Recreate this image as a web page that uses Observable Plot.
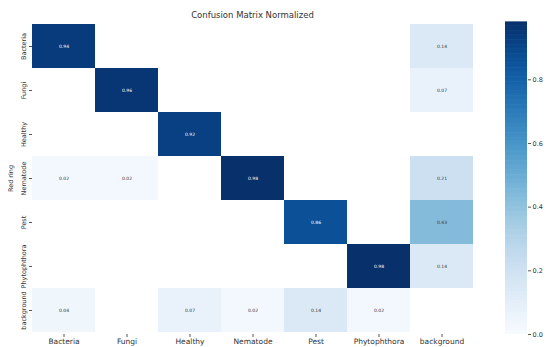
<!DOCTYPE html>
<html>
<head>
<meta charset="utf-8">
<script src="https://cdn.jsdelivr.net/npm/d3@7"></script>
<script src="https://cdn.jsdelivr.net/npm/@observablehq/plot@0.6"></script>
<style>
  html, body { margin: 0; padding: 0; background: #fff; }
  #wrap { position: relative; width: 549px; height: 347px; font-family: "DejaVu Sans", sans-serif; }
  #wrap svg { position: absolute; top: 0; }
  #title { position: absolute; top: 11px; left: 32px; width: 441px; text-align: center; font-size: 8.5px; color: #333; line-height: 1; }
</style>
</head>
<body>
<div id="wrap"><div id="title">Confusion Matrix Normalized</div></div>
<script>
// Predicted classes (columns) and true classes (rows)
const predLabels = ["Bacteria", "Fungi", "Healthy", "Nematode", "Pest", "Phytophthora", "background"];
const trueLabels = ["Bacteria", "Fungi", "Healthy", "Red ring\nNematode", "Pest", "Phytophthora", "background"];

// Normalized confusion matrix, one row per true class; null = empty cell
const rowBacteria     = [0.94, null, null, null, null, null, 0.14];
const rowFungi        = [null, 0.96, null, null, null, null, 0.07];
const rowHealthy      = [null, null, 0.92, null, null, null, null];
const rowNematode     = [0.02, 0.02, null, 0.98, null, null, 0.21];
const rowPest         = [null, null, null, null, 0.86, null, 0.43];
const rowPhytophthora = [null, null, null, null, null, 0.98, 0.14];
const rowBackground   = [0.04, null, 0.07, 0.02, 0.14, 0.02, null];

// Colorbar tick values
const colorTicks = [0, 0.2, 0.4, 0.6, 0.8];

const rows = [rowBacteria, rowFungi, rowHealthy, rowNematode, rowPest, rowPhytophthora, rowBackground];
const cells = [];
rows.forEach((r, i) => r.forEach((v, j) => {
  if (v != null) cells.push({truth: trueLabels[i], pred: predLabels[j], value: v});
}));

const vmax = 0.98;
const color = {type: "linear", scheme: "blues", domain: [0, vmax]};
const font = "DejaVu Sans, sans-serif";

const main = Plot.plot({
  width: 549,
  height: 347,
  marginLeft: 32,
  marginRight: 76,
  marginTop: 22,
  marginBottom: 13,
  style: {fontFamily: font, color: "#333", background: "transparent"},
  x: {domain: predLabels, padding: 0, label: null},
  y: {domain: trueLabels, padding: 0, label: null},
  color,
  marks: [
    Plot.cell(cells, {x: "pred", y: "truth", fill: "value", inset: 0}),
    Plot.text(cells, {
      x: "pred", y: "truth",
      text: d => d.value.toFixed(2),
      fill: d => d.value > 0.5 ? "#ffffff" : "#333333",
      fontSize: 4.5
    }),
    Plot.axisX({tickSize: 3, tickPadding: 1, fontSize: 7.5, stroke: "#555", fill: "#333"}),
    Plot.axisY({tickSize: 3, tickPadding: 4, tickRotate: -90, fontSize: 6.5, stroke: "#555", fill: "#333",
                lineAnchor: "bottom", lineHeight: 1.9})
  ]
});
document.getElementById("wrap").appendChild(main);

// Vertical colorbar drawn as thin stacked rects over the value domain
const steps = d3.range(0, vmax, 0.004).map(v => ({v0: v, v1: Math.min(v + 0.004, vmax)}));
const bar = Plot.plot({
  width: 54,
  height: 347,
  marginLeft: 10,
  marginRight: 22,
  marginTop: 22,
  marginBottom: 13,
  style: {fontFamily: font, color: "#333", background: "transparent"},
  x: {axis: null, domain: [0, 1]},
  y: {domain: [0, vmax], axis: null},
  color,
  marks: [
    Plot.rect(steps, {x1: 0, x2: 1, y1: "v0", y2: d => d.v1 + 0.002, fill: "v0"}),
    Plot.axisY({anchor: "right", label: null, ticks: colorTicks, tickFormat: d3.format(".1f"), tickSize: 3, tickPadding: 2, fontSize: 6.5, stroke: "#555", fill: "#333"})
  ]
});
bar.style.left = "495px";
document.getElementById("wrap").appendChild(bar);
</script>
</body>
</html>
